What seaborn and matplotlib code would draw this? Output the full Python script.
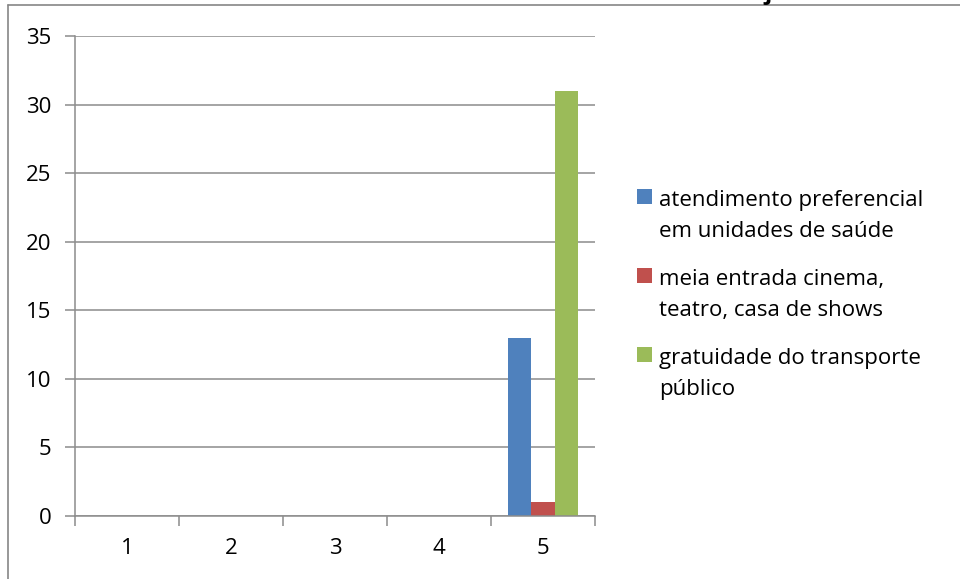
import matplotlib
matplotlib.use("Agg")
import matplotlib.pyplot as plt
from matplotlib.patches import Rectangle
from matplotlib.ticker import MultipleLocator, FixedLocator
import seaborn as sns
import pandas as pd
import numpy as np

# Data
categories = ["1", "2", "3", "4", "5"]
series_names = [
    "atendimento preferencial\nem unidades de saúde",
    "meia entrada cinema,\nteatro, casa de shows",
    "gratuidade do transporte\npúblico",
]
atendimento = [0, 0, 0, 0, 13]
meia_entrada = [0, 0, 0, 0, 1]
gratuidade = [0, 0, 0, 0, 31]
colors = ["#4F81BD", "#C0504D", "#9BBB59"]

df = pd.DataFrame({
    "categoria": categories * 3,
    "serie": np.repeat(series_names, len(categories)),
    "valor": atendimento + meia_entrada + gratuidade,
})

sns.set_theme(style="white")
plt.rcParams["font.family"] = ["Open Sans", "DejaVu Sans"]
FS = 16

W, H = 960, 579
fig = plt.figure(figsize=(W / 100, H / 100), dpi=100)
ax = fig.add_axes([75 / W, (H - 516) / H, 520 / W, 480 / H])

sns.barplot(data=df, x="categoria", y="valor", hue="serie", order=categories,
            hue_order=series_names, palette=colors, width=0.667, saturation=1,
            linewidth=0, ax=ax, legend=False)

grid_c = "#8C8C8C"
ax.set_xlim(-0.5, 4.5)
ax.set_ylim(0, 35)
ax.yaxis.set_major_locator(MultipleLocator(5))
ax.yaxis.grid(True, color=grid_c, linewidth=1.1)
ax.set_axisbelow(True)
for s in ["top", "right"]:
    ax.spines[s].set_visible(False)
for s in ["left", "bottom"]:
    ax.spines[s].set_color(grid_c)
    ax.spines[s].set_linewidth(1.1)
ax.set_xlabel("")
ax.set_ylabel("")

ax.tick_params(axis="y", which="major", direction="out", length=7, width=1.1,
               color=grid_c, labelsize=FS, pad=10, left=True)
ax.xaxis.set_minor_locator(FixedLocator(np.arange(-0.5, 5.0, 1.0)))
ax.tick_params(axis="x", which="minor", direction="out", length=7, width=1.1,
               color=grid_c, bottom=True)
ax.tick_params(axis="x", which="major", length=0, labelsize=FS, pad=16)
for lbl in ax.get_xticklabels() + ax.get_yticklabels():
    lbl.set_color("#000000")

# Legend: colored squares with two-line labels
box_x = 637 / W
txt_x = 659 / W
baselines = [206, 285, 364]
line_gap = 31
for name, c, base in zip(series_names, colors, baselines):
    fig.patches.append(Rectangle((box_x, (H - base + 2) / H), 15 / W, 15 / H,
                                 transform=fig.transFigure, facecolor=c,
                                 edgecolor="none"))
    for k, line in enumerate(name.split("\n")):
        fig.text(txt_x, (H - base - k * line_gap) / H, line, fontsize=FS,
                 va="baseline", ha="left", color="#000000")

# Outer frame of the chart area
frame_c = "#868686"
fig.add_artist(plt.Line2D([8 / W, 1.0], [(H - 5) / H] * 2, color=frame_c,
                          linewidth=1.2, transform=fig.transFigure))
fig.add_artist(plt.Line2D([8 / W, 8 / W], [0, (H - 5) / H], color=frame_c,
                          linewidth=1.2, transform=fig.transFigure))

# Tail of the title above the frame
fig.text(764 / W, (H + 1) / H, "j", fontsize=17, fontweight="bold",
         ha="left", va="baseline", color="#000000")

fig.savefig("out.png", dpi=100)
